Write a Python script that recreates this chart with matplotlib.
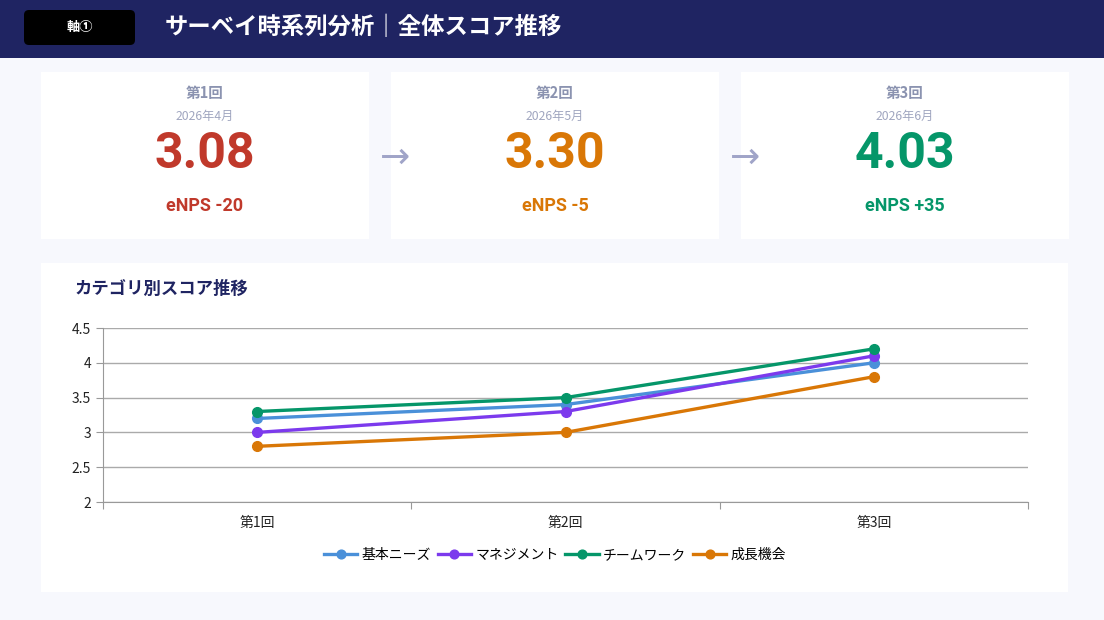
import matplotlib
matplotlib.use("Agg")
from matplotlib import pyplot as plt
from matplotlib.patches import FancyBboxPatch, Rectangle

plt.rcParams['font.family'] = ['Noto Sans CJK JP', 'DejaVu Sans']

rounds = ['第1回', '第2回', '第3回']
months = ['2026年4月', '2026年5月', '2026年6月']
totals = ['3.08', '3.30', '4.03']
enps = ['eNPS -20', 'eNPS -5', 'eNPS +35']
card_colors = ['#c0392b', '#d97706', '#059669']

categories = ['基本ニーズ', 'マネジメント', 'チームワーク', '成長機会']
kihon = [3.2, 3.4, 4.0]
management = [3.0, 3.3, 4.1]
teamwork = [3.3, 3.5, 4.2]
seicho = [2.8, 3.0, 3.8]
line_colors = ['#4a90d9', '#7c3aed', '#059669', '#d97706']

W, H = 1104, 620
fig = plt.figure(figsize=(W / 100, H / 100), dpi=100)
fig.patch.set_facecolor('#f7f8fd')

bg = fig.add_axes([0, 0, 1, 1])
bg.set_xlim(0, W)
bg.set_ylim(H, 0)
bg.axis('off')

# header
bg.add_patch(Rectangle((0, 0), W, 58, color='#1f2462', lw=0))
bg.add_patch(FancyBboxPatch((24, 10), 111, 35, boxstyle='round,pad=0,rounding_size=5',
                            color='black', lw=0))
bg.text(79.5, 27.5, '軸①', color='white', fontsize=9.5, fontweight='bold',
        ha='center', va='center')
bg.text(165, 27, 'サーベイ時系列分析｜全体スコア推移', color='white', fontsize=16.8,
        fontweight='bold', ha='left', va='center')

# cards
card_x = [41, 391, 741]
for i, x in enumerate(card_x):
    bg.add_patch(Rectangle((x, 72), 328, 167, color='white', lw=0))
    cx = x + 164
    bg.text(cx, 93, rounds[i], color='#8b93b0', fontsize=10.5, fontweight='bold',
            ha='center', va='center')
    bg.text(cx, 116, months[i], color='#a0a6c0', fontsize=8.8, ha='center', va='center')
    bg.text(cx, 155, totals[i], color=card_colors[i], fontsize=36, fontweight='bold',
            ha='center', va='center', family=['Roboto', 'DejaVu Sans'])
    bg.text(cx, 206, enps[i], color=card_colors[i], fontsize=13, fontweight='bold',
            ha='center', va='center', family=['Roboto', 'DejaVu Sans'])
for x in [395, 745]:
    bg.text(x, 158, '→', color='#a0a4c8', fontsize=26, ha='center', va='center',
            family=['DejaVu Sans'])

# chart panel
bg.add_patch(Rectangle((41, 263), 1027, 329, color='white', lw=0))
bg.text(75, 289, 'カテゴリ別スコア推移', color='#1f2462', fontsize=12.5,
        fontweight='bold', ha='left', va='center')

ax = fig.add_axes([103 / W, 1 - 502 / H, (1028 - 103) / W, (502 - 328) / H])
ax.set_facecolor('white')
x = range(len(rounds))
for vals, name, c in zip([kihon, management, teamwork, seicho], categories, line_colors):
    ax.plot(x, vals, '-o', color=c, lw=2.4, markersize=7, label=name)

ax.set_xlim(-0.5, 2.5)
ax.set_ylim(2, 4.5)
ax.set_yticks([2, 2.5, 3, 3.5, 4, 4.5])
ax.set_yticklabels(['2', '2.5', '3', '3.5', '4', '4.5'])
ax.set_xticks([-0.5, 0.5, 1.5, 2.5])
ax.set_xticklabels([])
ax.set_xticks([0, 1, 2], minor=True)
ax.set_xticklabels(rounds, minor=True)
ax.tick_params(axis='x', which='minor', length=0, pad=10, labelsize=10, labelcolor='#222222')
ax.tick_params(axis='x', which='major', length=5, color='#999999')
ax.tick_params(axis='y', length=5, color='#999999', labelsize=10, labelcolor='#222222')
ax.yaxis.grid(True, color='#aaaaaa', lw=1)
ax.set_axisbelow(True)
for s in ['top', 'right']:
    ax.spines[s].set_visible(False)
for s in ['left', 'bottom']:
    ax.spines[s].set_color('#999999')

fig.legend(loc='center', bbox_to_anchor=(555 / W, 1 - 555 / H), ncol=4, frameon=False,
           fontsize=10, handlelength=2.4, handletextpad=0.3, columnspacing=0.5,
           markerscale=0.9)

fig.savefig('out.png', dpi=100, facecolor=fig.get_facecolor())
